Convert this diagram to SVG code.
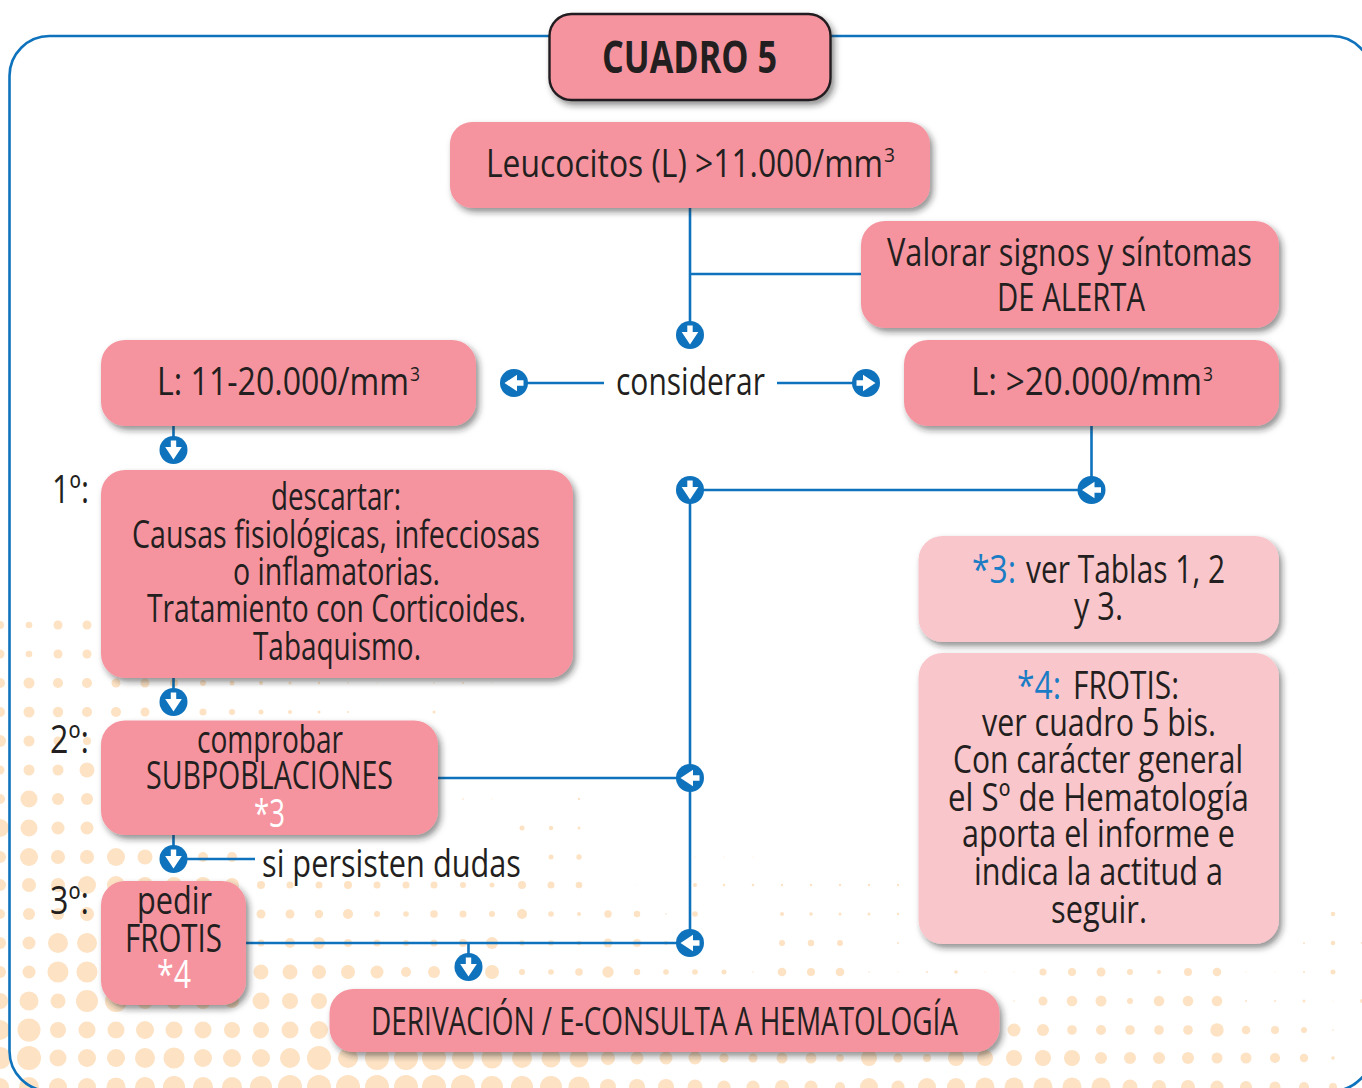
<svg xmlns="http://www.w3.org/2000/svg" width="1362" height="1088" viewBox="0 0 1362 1088">
<style>
text{font-family:"Open Sans","Noto Sans","Liberation Sans",sans-serif;font-size:39px;font-weight:500;fill:#231f20}
.n{fill:#f5949f;filter:url(#sh)}
.l{fill:#f9c6cb;filter:url(#sh)}
.w{fill:#fff}
.b{fill:#1a7cc4}
.s{font-size:20px;font-weight:400}
.c{fill:none;stroke:#0e72bc;stroke-width:2.6}
.dots{fill:#fde2c4}
</style>
<defs>
<filter id="sh" x="-10%" y="-10%" width="120%" height="125%"><feDropShadow dx="3" dy="4" stdDeviation="3" flood-color="#231f20" flood-opacity=".5"/></filter>
<g id="ad"><circle r="14" fill="#0e72bc"/><path fill="#fff" d="M-2.7-9.5H2.7V-3H8.3L0 9.5-8.3-3H-2.7Z"/></g>
</defs>
<rect width="1362" height="1088" fill="#fff"/>
<g id="dots" class="dots">
<g transform="translate(0,625)"><circle cx="0" r="4"/><circle cx="29" r="3.3"/><circle cx="58" r="4.5"/><circle cx="87" r="4.5"/></g>
<g transform="translate(0,654)"><circle cx="0" r="4.5"/><circle cx="29" r="3.3"/><circle cx="58" r="4.5"/><circle cx="87" r="4.5"/></g>
<g transform="translate(0,683)"><circle cx="0" r="5"/><circle cx="29" r="5.5"/><circle cx="58" r="5"/><circle cx="87" r="5"/><circle cx="116" r="4.5"/><circle cx="145" r="4.5"/><circle cx="174" r="4"/><circle cx="203" r="3"/><circle cx="232" r="2.5"/><circle cx="261" r="2"/><circle cx="290" r="1.5"/><circle cx="319" r="1.2"/><circle cx="348" r=".8"/><circle cx="377" r=".5"/><circle cx="434" r=".8"/><circle cx="463" r="1"/><circle cx="492" r=".5"/></g>
<g transform="translate(0,712)"><circle cx="0" r="5"/><circle cx="29" r="5.5"/><circle cx="58" r="5.2"/><circle cx="87" r="5"/><circle cx="116" r="5"/><circle cx="145" r="4.5"/><circle cx="203" r="3.5"/><circle cx="232" r="3"/><circle cx="261" r="2.5"/><circle cx="290" r="2"/><circle cx="319" r="1.5"/><circle cx="348" r="1"/><circle cx="434" r="1.5"/></g>
<g transform="translate(0,741)"><circle cx="0" r="6"/><circle cx="29" r="5.5"/><circle cx="58" r="4.5"/><circle cx="87" r="4"/></g>
<g transform="translate(0,770)"><circle cx="0" r="4.5"/><circle cx="29" r="5.5"/><circle cx="58" r="5.5"/><circle cx="87" r="7.5"/></g>
<g transform="translate(0,799)"><circle cx="0" r="5"/><circle cx="29" r="8.5"/><circle cx="58" r="6"/><circle cx="87" r="6"/><circle cx="463" r=".8"/><circle cx="492" r=".5"/><circle cx="579" r="1.2"/></g>
<g transform="translate(0,828)"><circle cx="0" r="9"/><circle cx="29" r="8.5"/><circle cx="58" r="6.5"/><circle cx="87" r="6.5"/><circle cx="522" r="2.5"/><circle cx="551" r="2.2"/><circle cx="579" r="1.5"/></g>
<g transform="translate(0,857)"><circle cx="0" r="6"/><circle cx="29" r="9"/><circle cx="58" r="7"/><circle cx="87" r="7"/><circle cx="116" r="9"/><circle cx="145" r="7.5"/><circle cx="203" r="5"/><circle cx="232" r="5"/><circle cx="551" r="2.5"/><circle cx="579" r="2.7"/><circle cx="695" r=".5"/><circle cx="724" r=".5"/><circle cx="753" r=".5"/></g>
<g transform="translate(0,885)"><circle cx="0" r="6"/><circle cx="29" r="7"/><circle cx="58" r="7"/><circle cx="87" r="9"/><circle cx="116" r="9"/><circle cx="145" r="8"/><circle cx="174" r="8"/><circle cx="203" r="8"/><circle cx="232" r="7"/><circle cx="261" r="4"/><circle cx="290" r="3.5"/><circle cx="319" r="3.5"/><circle cx="348" r="4"/><circle cx="377" r="3.5"/><circle cx="406" r="3.5"/><circle cx="434" r="3.5"/><circle cx="463" r="3"/><circle cx="492" r="2.5"/><circle cx="522" r="4"/><circle cx="551" r="3.5"/><circle cx="579" r="3.3"/><circle cx="608" r=".4"/><circle cx="637" r=".4"/><circle cx="695" r="2"/><circle cx="724" r="1.3"/><circle cx="753" r="1.3"/><circle cx="782" r="1.2"/><circle cx="811" r="1.2"/><circle cx="840" r="1.2"/><circle cx="869" r="1.2"/><circle cx="898" r="1.2"/><circle cx="927" r="1.2"/></g>
<g transform="translate(0,914)"><circle cx="0" r="5"/><circle cx="29" r="6"/><circle cx="58" r="6"/><circle cx="87" r="7"/><circle cx="261" r="4.5"/><circle cx="290" r="4.5"/><circle cx="319" r="4.2"/><circle cx="348" r="5"/><circle cx="377" r="3"/><circle cx="406" r="2.8"/><circle cx="434" r="3.8"/><circle cx="463" r="3.5"/><circle cx="492" r="3"/><circle cx="522" r="5"/><circle cx="551" r="2.8"/><circle cx="579" r="2"/><circle cx="608" r="3.7"/><circle cx="637" r="3.2"/><circle cx="666" r=".8"/><circle cx="695" r="2.8"/><circle cx="782" r="2"/><circle cx="811" r="1.8"/><circle cx="840" r="1.5"/><circle cx="869" r="1.5"/><circle cx="898" r="1.2"/><circle cx="927" r="1.2"/><circle cx="1333" r="2.3"/></g>
<g transform="translate(0,943)"><circle cx="0" r="6"/><circle cx="29" r="6.5"/><circle cx="58" r="10"/><circle cx="87" r="10"/><circle cx="261" r="3.5"/><circle cx="290" r="5"/><circle cx="319" r="6"/><circle cx="348" r="4"/><circle cx="377" r="3.5"/><circle cx="406" r="3"/><circle cx="434" r="3.5"/><circle cx="463" r="4"/><circle cx="492" r="6"/><circle cx="522" r="2.7"/><circle cx="551" r="2.8"/><circle cx="579" r="2.3"/><circle cx="608" r="4.5"/><circle cx="637" r="4"/><circle cx="666" r="2"/><circle cx="782" r="3"/><circle cx="811" r="3.2"/><circle cx="840" r="3"/><circle cx="898" r="1"/><circle cx="1304" r="1"/><circle cx="1333" r="2.3"/><circle cx="1362" r="1"/></g>
<g transform="translate(0,972)"><circle cx="0" r="6"/><circle cx="29" r="6.5"/><circle cx="58" r="10.5"/><circle cx="87" r="10.5"/><circle cx="261" r="7.5"/><circle cx="290" r="7.5"/><circle cx="319" r="7"/><circle cx="348" r="7"/><circle cx="377" r="6.5"/><circle cx="406" r="5"/><circle cx="434" r="6"/><circle cx="492" r="7"/><circle cx="522" r="3"/><circle cx="551" r="2.8"/><circle cx="579" r="3.8"/><circle cx="608" r="5.7"/><circle cx="637" r="3.2"/><circle cx="666" r="2.8"/><circle cx="695" r="2.8"/><circle cx="724" r="2.5"/><circle cx="753" r=".7"/><circle cx="782" r="4.3"/><circle cx="811" r="4"/><circle cx="840" r="4.3"/><circle cx="869" r=".7"/><circle cx="898" r=".5"/><circle cx="927" r="1"/><circle cx="956" r="1.8"/><circle cx="985" r=".5"/><circle cx="1014" r=".5"/><circle cx="1043" r="3.5"/><circle cx="1072" r="4"/><circle cx="1101" r="4.5"/><circle cx="1130" r="3"/><circle cx="1159" r="2"/><circle cx="1188" r="4"/><circle cx="1217" r="4.3"/><circle cx="1246" r=".5"/><circle cx="1275" r=".5"/><circle cx="1304" r="1"/><circle cx="1333" r="2.5"/></g>
<g transform="translate(0,1001)"><circle cx="0" r="8"/><circle cx="29" r="9.5"/><circle cx="58" r="7.5"/><circle cx="87" r="11"/><circle cx="116" r="11"/><circle cx="145" r="8"/><circle cx="174" r="8"/><circle cx="203" r="8"/><circle cx="232" r="7"/><circle cx="261" r="8.5"/><circle cx="290" r="8"/><circle cx="319" r="8"/><circle cx="1014" r=".8"/><circle cx="1043" r="4.5"/><circle cx="1072" r="5.3"/><circle cx="1101" r="5.5"/><circle cx="1130" r="3"/><circle cx="1159" r="5.3"/><circle cx="1188" r="5.3"/><circle cx="1217" r="5.3"/><circle cx="1246" r="1"/><circle cx="1275" r="1"/><circle cx="1304" r="1.5"/><circle cx="1333" r=".5"/><circle cx="1362" r="2"/></g>
<g transform="translate(0,1030)"><circle cx="0" r="10"/><circle cx="29" r="11.5"/><circle cx="58" r="8"/><circle cx="87" r="8.5"/><circle cx="116" r="8.5"/><circle cx="145" r="9"/><circle cx="174" r="8.5"/><circle cx="203" r="8.5"/><circle cx="232" r="8"/><circle cx="261" r="8"/><circle cx="290" r="8.5"/><circle cx="319" r="9"/><circle cx="1014" r="6.5"/><circle cx="1043" r="6"/><circle cx="1072" r="4.8"/><circle cx="1101" r="5"/><circle cx="1130" r="4.8"/><circle cx="1159" r="4.8"/><circle cx="1188" r="4.8"/><circle cx="1217" r="6.7"/><circle cx="1246" r="4.3"/><circle cx="1275" r="4"/><circle cx="1304" r="3"/><circle cx="1333" r=".8"/></g>
<g transform="translate(0,1058)"><circle cx="0" r="11"/><circle cx="29" r="12"/><circle cx="58" r="8.5"/><circle cx="87" r="9"/><circle cx="116" r="9"/><circle cx="145" r="10"/><circle cx="174" r="10.5"/><circle cx="203" r="9"/><circle cx="232" r="9"/><circle cx="261" r="9"/><circle cx="290" r="10"/><circle cx="319" r="12"/><circle cx="348" r="10"/><circle cx="377" r="12"/><circle cx="406" r="12"/><circle cx="434" r="12"/><circle cx="463" r="11"/><circle cx="492" r="10.5"/><circle cx="522" r="10"/><circle cx="551" r="9.5"/><circle cx="579" r="9.5"/><circle cx="608" r="7"/><circle cx="637" r="6.5"/><circle cx="666" r="6.5"/><circle cx="695" r="6.5"/><circle cx="724" r="4.7"/><circle cx="753" r="4.5"/><circle cx="782" r="5.5"/><circle cx="811" r="5.5"/><circle cx="840" r="3.8"/><circle cx="869" r="8"/><circle cx="898" r="4.7"/><circle cx="927" r="4"/><circle cx="956" r="8"/><circle cx="985" r="8"/><circle cx="1014" r="8"/><circle cx="1043" r="8"/><circle cx="1072" r="8"/><circle cx="1101" r="6"/><circle cx="1130" r="6"/><circle cx="1159" r="6"/><circle cx="1188" r="6"/><circle cx="1217" r="5.5"/><circle cx="1246" r="5.5"/><circle cx="1275" r="5"/><circle cx="1304" r="4.2"/><circle cx="1333" r="1.8"/></g>
<g transform="translate(0,1087)"><circle cx="0" r="9"/><circle cx="29" r="10"/><circle cx="58" r="9"/><circle cx="87" r="9"/><circle cx="116" r="9.5"/><circle cx="145" r="10"/><circle cx="174" r="11"/><circle cx="203" r="10"/><circle cx="232" r="10"/><circle cx="261" r="11"/><circle cx="290" r="12"/><circle cx="319" r="12"/><circle cx="348" r="12"/><circle cx="377" r="12"/><circle cx="406" r="12"/><circle cx="434" r="12"/><circle cx="463" r="12"/><circle cx="492" r="11"/><circle cx="522" r="11"/><circle cx="551" r="11"/><circle cx="579" r="10.5"/><circle cx="608" r="8"/><circle cx="637" r="8"/><circle cx="666" r="8"/><circle cx="695" r="7.5"/><circle cx="724" r="6.5"/><circle cx="753" r="6.5"/><circle cx="782" r="7"/><circle cx="811" r="6.5"/><circle cx="840" r="5"/><circle cx="869" r="9"/><circle cx="898" r="6.5"/><circle cx="927" r="9"/><circle cx="956" r="9"/><circle cx="985" r="9.5"/><circle cx="1014" r="9.5"/><circle cx="1043" r="9.5"/><circle cx="1072" r="9.5"/><circle cx="1101" r="9.5"/><circle cx="1130" r="7.5"/><circle cx="1159" r="7"/><circle cx="1188" r="7"/><circle cx="1217" r="6.5"/><circle cx="1246" r="6"/><circle cx="1275" r="5.5"/><circle cx="1304" r="5"/><circle cx="1333" r="4"/></g>
</g>
<g id="connectors">
<rect class="c" x="9.5" y="36" width="1362.5" height="1055" rx="40" ry="40"/>
<path class="c" d="M690 208V335M690 274H861M604 383H514M777 383H866M173.500 426V450M173.500 678V702M173.500 835V859H255M1091.500 426V490H690V943M438 778H690M246 943H690M468.500 943V967"/>
<use href="#ad" x="690" y="335"/>
<use href="#ad" transform="translate(514,383) rotate(90)"/>
<use href="#ad" transform="translate(866,383) rotate(-90)"/>
<use href="#ad" x="173.500" y="450"/>
<use href="#ad" x="173.500" y="702"/>
<use href="#ad" x="173.500" y="859"/>
<use href="#ad" transform="translate(1091.500,490) rotate(90)"/>
<use href="#ad" x="690" y="490"/>
<use href="#ad" transform="translate(690,778) rotate(90)"/>
<use href="#ad" transform="translate(690,943) rotate(90)"/>
<use href="#ad" x="468.500" y="967"/>
</g>
<g id="cuadro5"><rect class="n" x="549.500" y="14" width="281" height="86" rx="22" stroke="#231f20" stroke-width="2.4"/><text x="602" y="72.500" textLength="175" lengthAdjust="spacingAndGlyphs" style="font-size:44px;font-weight:700">CUADRO 5</text></g>
<g id="leucocitos"><rect class="n" x="450" y="122" width="480" height="86" rx="22"/><text><tspan x="486" y="177" textLength="397" lengthAdjust="spacingAndGlyphs">Leucocitos (L) &gt;11.000/mm</tspan><tspan class="s" x="884" y="162" textLength="11" lengthAdjust="spacingAndGlyphs">3</tspan></text></g>
<g id="alerta"><rect class="n" x="861" y="221" width="418" height="107" rx="24"/><text><tspan x="887" y="266" textLength="365" lengthAdjust="spacingAndGlyphs">Valorar signos y síntomas</tspan><tspan x="997" y="311" textLength="148" lengthAdjust="spacingAndGlyphs">DE ALERTA</tspan></text></g>
<g id="considerar"><text x="616" y="395" textLength="149" lengthAdjust="spacingAndGlyphs">considerar</text></g>
<g id="l-mayor20"><rect class="n" x="904" y="340" width="375" height="86" rx="24"/><text><tspan x="971" y="394.500" textLength="231" lengthAdjust="spacingAndGlyphs">L: &gt;20.000/mm</tspan><tspan class="s" x="1203" y="381" textLength="10" lengthAdjust="spacingAndGlyphs">3</tspan></text></g>
<g id="l-11-20"><rect class="n" x="101" y="340" width="375" height="86" rx="24"/><text><tspan x="157" y="395" textLength="252" lengthAdjust="spacingAndGlyphs">L: 11-20.000/mm</tspan><tspan class="s" x="410" y="381" textLength="10" lengthAdjust="spacingAndGlyphs">3</tspan></text></g>
<g id="paso1"><text x="52" y="503" textLength="37" lengthAdjust="spacingAndGlyphs">1º:</text><rect class="n" x="101" y="470" width="472" height="208" rx="24"/>
<text><tspan x="271" y="510" textLength="130" lengthAdjust="spacingAndGlyphs">descartar:</tspan><tspan x="132" y="548" textLength="408" lengthAdjust="spacingAndGlyphs">Causas fisiológicas, infecciosas</tspan><tspan x="233" y="585" textLength="207" lengthAdjust="spacingAndGlyphs">o inflamatorias.</tspan><tspan x="147" y="622" textLength="379" lengthAdjust="spacingAndGlyphs">Tratamiento con Corticoides.</tspan><tspan x="253" y="660" textLength="168" lengthAdjust="spacingAndGlyphs">Tabaquismo.</tspan></text></g>
<g id="paso2"><text x="50" y="753" textLength="39" lengthAdjust="spacingAndGlyphs">2º:</text><rect class="n" x="101" y="720.500" width="337" height="114.500" rx="24"/>
<text><tspan x="197" y="752.500" textLength="146" lengthAdjust="spacingAndGlyphs">comprobar</tspan><tspan x="146" y="789" textLength="247" lengthAdjust="spacingAndGlyphs">SUBPOBLACIONES</tspan><tspan class="w" x="254" y="827" textLength="31" lengthAdjust="spacingAndGlyphs">*3</tspan></text></g>
<g id="persisten"><text x="262" y="877" textLength="259" lengthAdjust="spacingAndGlyphs">si persisten dudas</text></g>
<g id="paso3"><text x="50" y="914" textLength="39" lengthAdjust="spacingAndGlyphs">3º:</text><rect class="n" x="101" y="881" width="145" height="124" rx="24"/>
<text><tspan x="137" y="914" textLength="75" lengthAdjust="spacingAndGlyphs">pedir</tspan><tspan x="125" y="952" textLength="97" lengthAdjust="spacingAndGlyphs">FROTIS</tspan><tspan class="w" x="157" y="988" textLength="34" lengthAdjust="spacingAndGlyphs">*4</tspan></text></g>
<g id="derivacion"><rect class="n" x="329.500" y="989" width="670" height="63" rx="24"/><text x="371" y="1035" textLength="587" lengthAdjust="spacingAndGlyphs">DERIVACIÓN / E-CONSULTA A HEMATOLOGÍA</text></g>
<g id="nota3"><rect class="l" x="918.500" y="536" width="360.500" height="106" rx="24"/><text><tspan class="b" x="972" y="583" textLength="44" lengthAdjust="spacingAndGlyphs">*3:</tspan><tspan x="1026" y="583" textLength="199" lengthAdjust="spacingAndGlyphs">ver Tablas 1, 2</tspan><tspan x="1074" y="619.500" textLength="49" lengthAdjust="spacingAndGlyphs">y 3.</tspan></text></g>
<g id="nota4"><rect class="l" x="918.500" y="653" width="360.500" height="291" rx="24"/><text><tspan class="b" x="1017" y="699" textLength="44" lengthAdjust="spacingAndGlyphs">*4:</tspan><tspan x="1073" y="699" textLength="106" lengthAdjust="spacingAndGlyphs">FROTIS:</tspan><tspan x="982" y="736" textLength="234" lengthAdjust="spacingAndGlyphs">ver cuadro 5 bis.</tspan><tspan x="953" y="773" textLength="290" lengthAdjust="spacingAndGlyphs">Con carácter general</tspan><tspan x="948" y="811" textLength="301" lengthAdjust="spacingAndGlyphs">el Sº de Hematología</tspan><tspan x="962" y="847" textLength="273" lengthAdjust="spacingAndGlyphs">aporta el informe e</tspan><tspan x="974" y="885" textLength="249" lengthAdjust="spacingAndGlyphs">indica la actitud a</tspan><tspan x="1051" y="923" textLength="96" lengthAdjust="spacingAndGlyphs">seguir.</tspan></text></g>
</svg>
